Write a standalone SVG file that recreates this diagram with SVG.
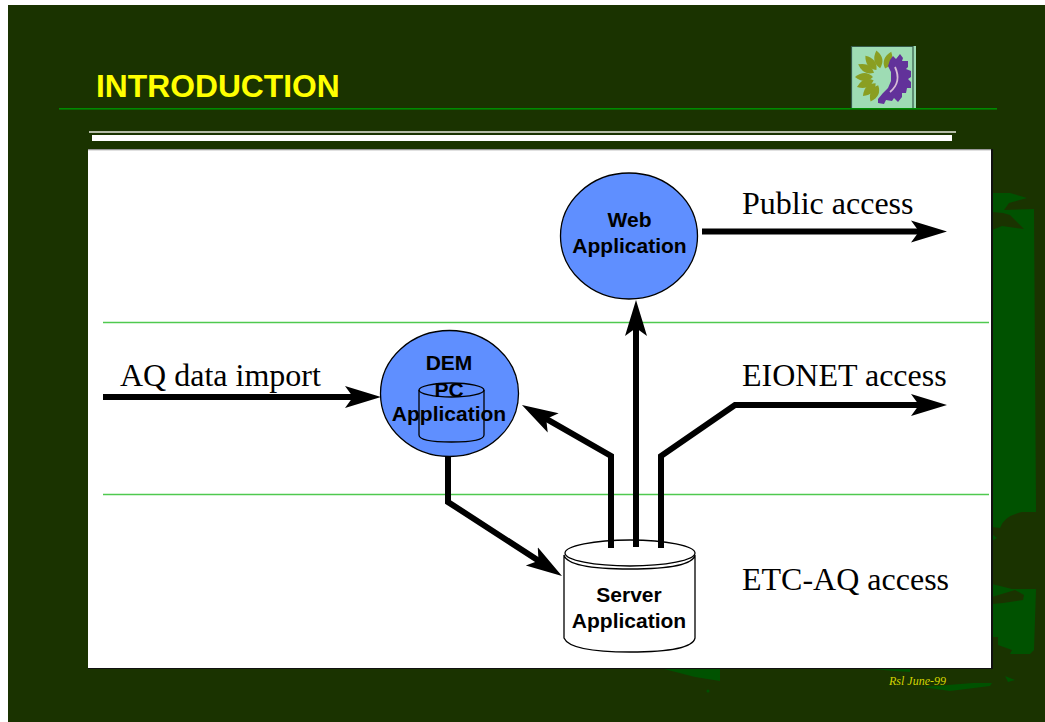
<svg xmlns="http://www.w3.org/2000/svg" width="1045" height="722" viewBox="0 0 1045 722">
<style>
.sans{font-family:"Liberation Sans",Arial,sans-serif;font-weight:bold;font-size:21px;fill:#000;text-anchor:middle}
.serif{font-family:"Liberation Serif","Times New Roman",serif;font-size:32px;fill:#000}
.conn{fill:none;stroke:#000;stroke-width:6}
.sep{stroke:#4fc94f;stroke-width:1.6}
.shape{stroke:#000;stroke-width:1.3}
.blob{fill:#005200}
.dark{fill:#1a3300}
.petal{fill:#8a9e22}
</style>
<defs>
<marker id="arrow" markerUnits="userSpaceOnUse" markerWidth="42" markerHeight="26" refX="16" refY="13" orient="auto">
<path d="M0 2 L36 13 L0 24 L8 13 Z" fill="#000"/>
</marker>
<filter id="soft" x="-10%" y="-10%" width="120%" height="120%"><feGaussianBlur stdDeviation="0.6"/></filter>
</defs>
<rect x="0" y="0" width="1045" height="722" fill="#fff"/>
<rect x="8" y="5" width="1037" height="717" class="dark"/>
<g id="background-art">
<path class="blob" d="M992 193 L1010 193 L1027 198 L1009 203 L1004 210 L1034 209 L1036 512 L1022 512 Q1004 516 1000 528 L992 527 Z"/>
<path class="dark" d="M992 212 L1003 213 L1010 215 L1024 229 L1002 226 L992 230 Z"/>
<path class="blob" d="M992 534 L997 538 L992 541 Z"/>
<path class="blob" d="M992 584 L1012 589 L1036 589 L1034 650 L1030 654 L1010 654 L1012 650 L998 645 L998 637 L992 637 Z"/>
<path class="dark" d="M992 597 L1015 590 L1024 595 L1023 600 L1003 603 L992 604 Z"/>
<path class="blob" d="M664 669 L720 669 L720 681 L695 677 Z"/>
<circle class="blob" cx="708" cy="691" r="1.500"/>
<path class="blob" d="M923 687 L973 683 L992 683 L990 686 L950 691 Z"/>
<path class="blob" d="M872 669 L910 669 L910 672 L895 671 Z"/>
<path class="blob" d="M1005 676 L1015 680 L1008 682 Z"/>
</g>
<g id="title">
<text x="96" y="97" font-family="'Liberation Sans',Arial,sans-serif" font-weight="bold" font-size="31.800" fill="#ffff00">INTRODUCTION</text>
<rect x="59" y="108" width="938" height="1.600" fill="#008a00"/>
<rect x="89" y="131" width="867" height="2" fill="#b5bca8"/>
<rect x="92" y="135" width="860" height="6" fill="#fff"/>
</g>
<g id="logo">
<rect x="851" y="46" width="65" height="62" fill="#9edcb4"/>
<path d="M851 46.500H913M851.500 46V108M913 46V108" stroke="#35594a" stroke-width="1.200" fill="none"/>
<g filter="url(#soft)">
<g transform="translate(882 77)">
<path class="petal" d="M0 -9 Q-8 -17 0 -27 Q8 -17 0 -9Z" transform="rotate(20)"/>
<path class="petal" d="M0 -9 Q-8 -17 0 -27 Q8 -17 0 -9Z" transform="rotate(-12)"/>
<path class="petal" d="M0 -9 Q-8 -17 0 -27 Q8 -17 0 -9Z" transform="rotate(-38)"/>
<path class="petal" d="M0 -9 Q-8 -17 0 -27 Q8 -17 0 -9Z" transform="rotate(-62)"/>
<path class="petal" d="M0 -9 Q-8 -17 0 -27 Q8 -17 0 -9Z" transform="rotate(-90)"/>
<path class="petal" d="M0 -9 Q-8 -17 0 -27 Q8 -17 0 -9Z" transform="rotate(-112)"/>
<path class="petal" d="M0 -9 Q-8 -17 0 -27 Q8 -17 0 -9Z" transform="rotate(-135)"/>
<path class="petal" d="M0 -9 Q-8 -17 0 -27 Q8 -17 0 -9Z" transform="rotate(-155)"/>
</g>
<path fill="#62329a" d="M890 60 L893 56 L896 59 L900 54 L903 58 L902 61 L908 61 L908 67 L906 69 L911 71 L911 77 L908 79 L911 82 L911 88 L907 88 L906 93 L902 93 L902 97 L898 102 L894 98 L892 101 L886 100 L884 104 L878 103 L878 99 L883 93 L888 88 L891 81 L891 72 L888 66 Z"/>
<path d="M895 67 Q902 82 890 92" fill="none" stroke="#d6bcd6" stroke-width="1.800"/>
</g>
</g>
<g id="panel">
<rect x="88" y="149" width="905" height="520" fill="#111"/>
<rect x="88" y="150" width="903" height="518" fill="#fff"/>
<rect x="88" y="149" width="903" height="1.300" fill="#999"/>
</g>
<g id="separators">
<line class="sep" x1="103" y1="322.500" x2="989" y2="322.500"/>
<line class="sep" x1="103" y1="494.500" x2="989" y2="494.500"/>
</g>
<g id="labels">
<text class="serif" x="742" y="214">Public access</text>
<text class="serif" x="120" y="386">AQ data import</text>
<text class="serif" x="742" y="386">EIONET access</text>
<text class="serif" x="742" y="590">ETC-AQ access</text>
</g>
<g id="web-application">
<ellipse class="shape" cx="629" cy="236" rx="68.500" ry="63" fill="#5f8fff"/>
<text class="sans" x="629.500" y="227">Web</text>
<text class="sans" x="629.500" y="253">Application</text>
</g>
<g id="dem-pc-application">
<ellipse class="shape" cx="449.500" cy="393.500" rx="69" ry="63" fill="#5f8fff"/>
<path class="shape" fill="none" d="M419 390 V435 Q419 442 451.500 442 Q484 442 484 435 V390"/>
<ellipse class="shape" cx="451.500" cy="390" rx="32.500" ry="7" fill="none"/>
<text class="sans" x="449" y="370">DEM</text>
<text class="sans" x="449" y="397">PC</text>
<text class="sans" x="449" y="421">Application</text>
</g>
<g id="server-application">
<path class="shape" fill="#fff" d="M564 555 V638 Q570 652 630 652 Q692 652 695 638 V555 Q692 569 630 569 Q568 569 564 555 Z"/>
<ellipse class="shape" cx="630" cy="553" rx="65" ry="13" fill="#fff"/>
<text class="sans" x="629" y="602">Server</text>
<text class="sans" x="629" y="628">Application</text>
</g>
<g id="connectors">
<path class="conn" marker-end="url(#arrow)" d="M702 231.500 H927"/>
<path class="conn" marker-end="url(#arrow)" d="M103 397 H361"/>
<path class="conn" marker-end="url(#arrow)" d="M636 547 V320"/>
<path class="conn" marker-end="url(#arrow)" d="M611 548 V456 L539.300 414.900"/>
<path class="conn" marker-end="url(#arrow)" d="M661 548 V456 L735 405 H927"/>
<path class="conn" marker-end="url(#arrow)" d="M448 456 V502 L545.200 565.100"/>
</g>
<text id="footer" x="889" y="685" font-family="'Liberation Serif','Times New Roman',serif" font-style="italic" font-size="12" fill="#d4d400">Rsl June-99</text>
</svg>
